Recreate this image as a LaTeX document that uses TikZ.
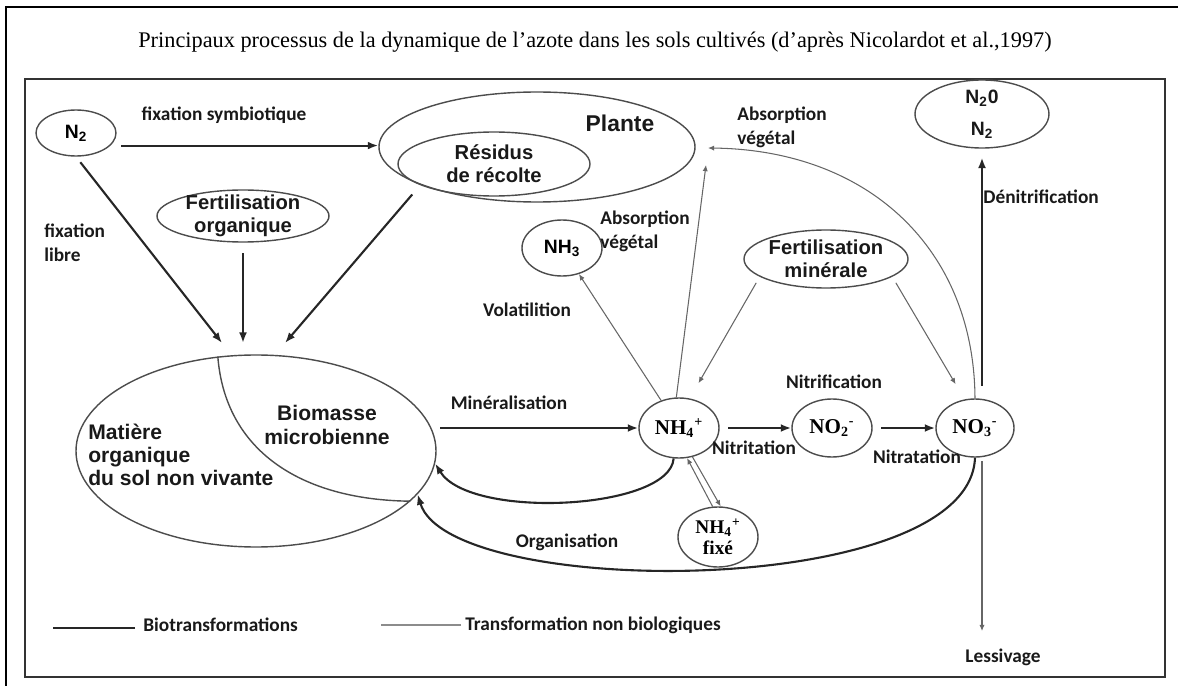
\documentclass[tikz,border=0pt]{standalone}
\usepackage{fontspec}
\setmainfont{Liberation Serif}
\newfontfamily\lblfont{Carlito}
\newfontfamily\boxfont{Liberation Sans}
\usetikzlibrary{arrows.meta,shapes.geometric}

\def\pxu{0.02cm}
\newcommand{\ionNH}{NH\textsubscript{4}\textsuperscript{+}}

\tikzset{
  pool/.style={ellipse,draw=black!70,line width=0.8pt,inner sep=0pt},
  bio/.style={draw=black!85,line width=1.2pt,-{Latex[length=6pt,width=4.5pt]}},
  abio/.style={draw=black!60,line width=0.6pt,-{Latex[length=3.5pt,width=3pt]}},
  lbl/.style={font=\lblfont\bfseries\fontsize{11}{13.5}\selectfont,text=black!90,inner sep=0pt,align=left},
  boxtxt/.style={font=\boxfont\bfseries\fontsize{11.5}{13}\selectfont,text=black!90,align=center,inner sep=0pt},
  ion/.style={font=\bfseries\fontsize{12}{14}\selectfont,align=center},
}

\begin{document}
\begin{tikzpicture}[x=0.02cm,y=-0.02cm]
  \useasboundingbox (0,0) rectangle (1178,686);

  %------------------
  % cadres et titre
  %------------------
  \draw[line width=1.2pt] (6,686) -- (6,7) -- (1178,7);
  \draw[line width=1pt,black!80] (25,79) rectangle (1165,677);
  \node[font=\fontsize{12.7}{15}\selectfont,inner sep=0pt] (titre) at (595,42)
    {Principaux processus de la dynamique de l’azote dans les sols cultivés (d’après Nicolardot et al.,1997)};

  %------------------
  % réservoirs
  %------------------
  \node[pool,minimum width=80*\pxu,minimum height=46*\pxu,font=\boxfont\bfseries\fontsize{11}{13}\selectfont] (n2) at (76,133) {N\textsubscript{2}};
  \node[pool,minimum width=316*\pxu,minimum height=110*\pxu] (plante) at (537,147) {};
  \node[pool,minimum width=192*\pxu,minimum height=64*\pxu,label={[boxtxt]center:{Résidus\\de récolte}}] (residus) at (494,164) {};
  \node[boxtxt,font=\boxfont\bfseries\fontsize{13}{15}\selectfont] (plantetxt) at (620,123) {Plante};
  \node[pool,minimum width=172*\pxu,minimum height=52*\pxu,label={[boxtxt]center:{Fertilisation\\organique}}] (fertorg) at (243,216) {};
  \node[pool,minimum width=134*\pxu,minimum height=68*\pxu,label={[boxtxt,font=\boxfont\bfseries\fontsize{11}{13}\selectfont]center:{N\textsubscript{2}0\\[5pt]N\textsubscript{2}}}] (n2o) at (982,114) {};
  \node[pool,minimum width=80*\pxu,minimum height=56*\pxu,font=\boxfont\bfseries\fontsize{11}{13}\selectfont] (nh3) at (562,248) {NH\textsubscript{3}};
  \node[pool,minimum width=164*\pxu,minimum height=58*\pxu,label={[boxtxt]center:{Fertilisation\\minérale}}] (fertmin) at (826,259) {};

  \node[pool,minimum width=360*\pxu,minimum height=192*\pxu] (mos) at (256,451) {};
  \draw[black!70,line width=0.8pt] (mos.112) .. controls (225,450) and (300,500) .. (mos.-18);
  \node[boxtxt,font=\boxfont\bfseries\fontsize{12}{14}\selectfont] (biomasse) at (327,425) {Biomasse\\microbienne};
  \node[boxtxt,font=\boxfont\bfseries\fontsize{12}{13}\selectfont,align=left,anchor=west] (matiere) at (88,455) {Matière\\organique\\du sol non vivante};

  \node[pool,ion,minimum width=80*\pxu,minimum height=60*\pxu] (nh4) at (679,428) {\ionNH};
  \node[pool,ion,minimum width=80*\pxu,minimum height=58*\pxu] (no2) at (832,428) {NO\textsubscript{2}\textsuperscript{-}};
  \node[pool,ion,minimum width=78*\pxu,minimum height=58*\pxu] (no3) at (975,428) {NO\textsubscript{3}\textsuperscript{-}};
  \node[pool,ion,font=\bfseries\fontsize{11}{12}\selectfont,minimum width=80*\pxu,minimum height=60*\pxu] (nh4fix) at (718,537) {\ionNH\\fixé};

  %------------------
  % textes des flux
  %------------------
  \node[lbl] (fsym) at (224,115) {fixation symbiotique};
  \node[lbl,anchor=west] (flibre) at (44,243) {fixation\\libre};
  \node[lbl,anchor=west] (absa) at (737,127) {Absorption\\végétal};
  \node[lbl,anchor=west] (absb) at (600,231) {Absorption\\végétal};
  \node[lbl] (volat) at (527,310) {Volatilition};
  \node[lbl] (miner) at (509,403) {Minéralisation};
  \node[lbl] (nitrif) at (834,382) {Nitrification};
  \node[lbl] (nitrit) at (754,448) {Nitritation};
  \node[lbl] (nitrat) at (917,457) {Nitratation};
  \node[lbl] (orga) at (567,542) {Organisation};
  \node[lbl,anchor=west] (denit) at (983,197) {Dénitrification};
  \node[lbl] (lessiv) at (1003,657) {Lessivage};

  \coordinate (in1) at (222,343);
  \coordinate (in2) at (243,343);
  \coordinate (in3) at (285,343);
  \coordinate (pa) at (708,148);
  \coordinate (pb) at (706,165);
  \coordinate (lsv) at (982,631);

  %------------------
  % biotransformations
  %------------------
  \draw[bio,shorten <=6pt] (n2.-20) -- (n2.-20 -| plante.west);
  \draw[bio,shorten <=4pt] (n2.south) -- (in1);
  \draw[bio,shorten <=6pt] (fertorg) -- (in2);
  \draw[bio,shorten <=7pt] (residus.196) -- (in3);
  \draw[bio,shorten <=2pt] (nh4.west -| mos.east) -- (nh4);
  \draw[bio,shorten <=5pt] (nh4) -- (no2);
  \draw[bio,shorten <=5pt] (no2) -- (no3);
  \draw[bio,shorten <=7pt,shorten >=5pt] (no3.north -| n2o.south) -- (n2o.south);
  \draw[bio] (nh4.-100) .. controls (670,510) and (470,520) .. (mos.-4);
  \draw[bio] (no3.south) .. controls (970,600) and (450,600) .. (mos.-15);

  %------------------
  % transformations non biologiques
  %------------------
  \draw[abio] (nh4) -- (nh3);
  \draw[abio] (nh4.95) -- (pb);
  \draw[abio,shorten <=4pt,shorten >=10pt] (fertmin.195) -- (nh4.70);
  \draw[abio,shorten <=4pt,shorten >=10pt] (fertmin.-15) -- (no3.110);
  \draw[abio] (no3.north) .. controls (974,250) and (870,150) .. (pa);
  \draw[abio] (nh4fix.100) -- (nh4.-75);
  \draw[abio] (nh4.-65) -- (nh4fix.85);
  \draw[abio,shorten <=2pt] (no3.south -| n2o.south) -- (lsv);

  % légende
  \node[lbl,anchor=west] (legbio) at (143,625) {Biotransformations};
  \node[lbl,anchor=west] (legabio) at (465,625) {Transformation non biologiques};
  \draw[black!85,line width=1.2pt] (legbio.west) ++(-8,3) -- ++(-82,0);
  \draw[black!45,line width=1.2pt] (legabio.west) ++(-4,0) -- ++(-80,0);
\end{tikzpicture}
\end{document}
